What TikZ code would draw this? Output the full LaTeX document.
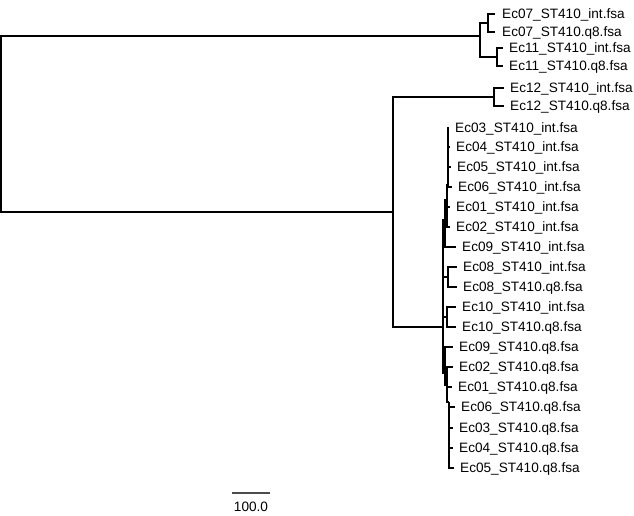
\documentclass[tikz,border=0pt]{standalone}
\usepackage{fontspec}
\setmainfont{Liberation Sans}
\begin{document}
\begin{tikzpicture}[x=1pt,y=-1pt,
  br/.style={line width=1.3pt, draw=black},
  lab/.style={anchor=base west, inner sep=0pt, font=\fontsize{13.6}{15}\selectfont},
  sbar/.style={line width=1.6pt, draw=black!70}]
\useasboundingbox (0,0) rectangle (634,515);
% internal nodes
\coordinate (R) at (1,124);
\coordinate (T) at (480,36);
\coordinate (T1) at (488,23);
\coordinate (T2) at (497,57);
\coordinate (B) at (393,212);
\coordinate (E12) at (494,97);
\coordinate (C) at (443,327);
\coordinate (U) at (445,220);
\coordinate (U2) at (447,200);
\coordinate (U3) at (448,185);
\coordinate (E08) at (448,277);
\coordinate (E10) at (447,317);
\coordinate (L) at (445,373);
\coordinate (L2) at (447,385);
\coordinate (L3) at (449,402);
% leaves: tip coordinates
\coordinate (a1) at (495,14);
\coordinate (a2) at (495,32);
\coordinate (a3) at (503,48);
\coordinate (a4) at (503,66);
\coordinate (a5) at (504,88);
\coordinate (a6) at (504,106);
\coordinate (a7) at (449,128);
\coordinate (a8) at (450,147);
\coordinate (a9) at (451,167);
\coordinate (a10) at (452,187);
\coordinate (a11) at (450,207);
\coordinate (a12) at (450,227);
\coordinate (a13) at (456,247);
\coordinate (a14) at (457,267);
\coordinate (a15) at (457,287);
\coordinate (a16) at (456,307);
\coordinate (a17) at (456,327);
\coordinate (a18) at (453,347);
\coordinate (a19) at (453,367);
\coordinate (a20) at (452,387);
\coordinate (a21) at (455,407);
\coordinate (a22) at (453,428);
\coordinate (a23) at (453,448);
\coordinate (a24) at (454,468);
% labels
\node[lab] (t1) at (502,18.9) {Ec07\_ST410\_int.fsa};
\node[lab] (t2) at (502,36.9) {Ec07\_ST410.q8.fsa};
\node[lab] (t3) at (509,52.9) {Ec11\_ST410\_int.fsa};
\node[lab] (t4) at (509,70.9) {Ec11\_ST410.q8.fsa};
\node[lab] (t5) at (510,92.9) {Ec12\_ST410\_int.fsa};
\node[lab] (t6) at (510,110.9) {Ec12\_ST410.q8.fsa};
\node[lab] (t7) at (455,132.9) {Ec03\_ST410\_int.fsa};
\node[lab] (t8) at (456,151.9) {Ec04\_ST410\_int.fsa};
\node[lab] (t9) at (457,171.9) {Ec05\_ST410\_int.fsa};
\node[lab] (t10) at (458,191.9) {Ec06\_ST410\_int.fsa};
\node[lab] (t11) at (456,211.9) {Ec01\_ST410\_int.fsa};
\node[lab] (t12) at (456,231.9) {Ec02\_ST410\_int.fsa};
\node[lab] (t13) at (462,251.9) {Ec09\_ST410\_int.fsa};
\node[lab] (t14) at (463,271.9) {Ec08\_ST410\_int.fsa};
\node[lab] (t15) at (463,291.9) {Ec08\_ST410.q8.fsa};
\node[lab] (t16) at (462,311.9) {Ec10\_ST410\_int.fsa};
\node[lab] (t17) at (462,331.9) {Ec10\_ST410.q8.fsa};
\node[lab] (t18) at (459,351.9) {Ec09\_ST410.q8.fsa};
\node[lab] (t19) at (459,371.9) {Ec02\_ST410.q8.fsa};
\node[lab] (t20) at (458,391.9) {Ec01\_ST410.q8.fsa};
\node[lab] (t21) at (461,411.9) {Ec06\_ST410.q8.fsa};
\node[lab] (t22) at (459,432.9) {Ec03\_ST410.q8.fsa};
\node[lab] (t23) at (459,452.9) {Ec04\_ST410.q8.fsa};
\node[lab] (t24) at (460,472.9) {Ec05\_ST410.q8.fsa};
% branches
\draw[br] (R) |- (T);
\draw[br] (R) |- (B);
\draw[br] (T) |- (T1);
\draw[br] (T) |- (T2);
\draw[br] (T1) |- (a1);
\draw[br] (T1) |- (a2);
\draw[br] (T2) |- (a3);
\draw[br] (T2) |- (a4);
\draw[br] (B) |- (E12);
\draw[br] (B) |- (C);
\draw[br] (E12) |- (a5);
\draw[br] (E12) |- (a6);
\draw[br] (C) |- (U);
\draw[br] (C) |- (E08);
\draw[br] (C) |- (E10);
\draw[br] (C) |- (L);
\draw[br] (U) |- (U2);
\draw[br] (U) |- (a13);
\draw[br] (U2) |- (U3);
\draw[br] (U2) |- (a11);
\draw[br] (U2) |- (a12);
\draw[br] (U3) |- (a7);
\draw[br] (U3) |- (a8);
\draw[br] (U3) |- (a9);
\draw[br] (U3) |- (a10);
\draw[br] (E08) |- (a14);
\draw[br] (E08) |- (a15);
\draw[br] (E10) |- (a16);
\draw[br] (E10) |- (a17);
\draw[br] (L) |- (a18);
\draw[br] (L) |- (L2);
\draw[br] (L2) |- (a19);
\draw[br] (L2) |- (a20);
\draw[br] (L2) |- (L3);
\draw[br] (L3) |- (a21);
\draw[br] (L3) |- (a22);
\draw[br] (L3) |- (a23);
\draw[br] (L3) |- (a24);
% scale bar
\coordinate (s1) at (232,493);
\coordinate (s2) at (270,493);
\draw[sbar] (s1) -- (s2);
\node[lab, anchor=base] (sl) at (251,511.9) {100.0};
\end{tikzpicture}
\end{document}
